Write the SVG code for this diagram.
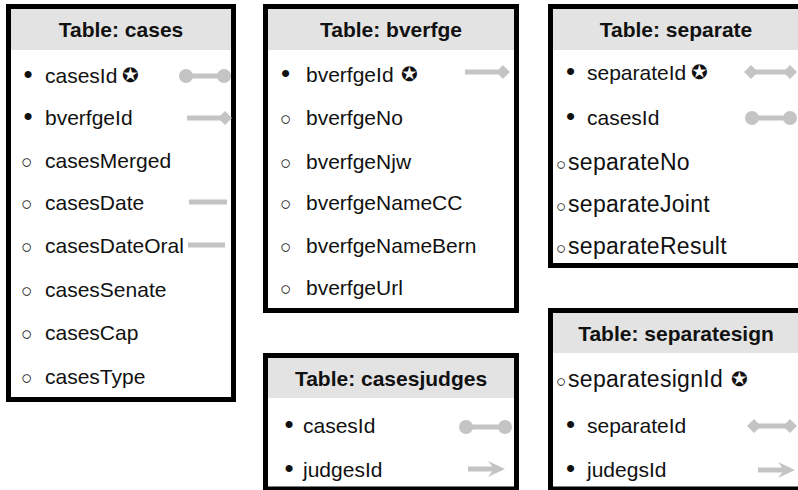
<svg xmlns="http://www.w3.org/2000/svg" width="798" height="490" viewBox="0 0 798 490">
<style>
.box{fill:#fff;stroke:#000;stroke-width:5}
.hd{fill:#e3e3e3}
.t{font-family:"Liberation Sans",Arial,sans-serif;font-size:21px;font-weight:bold;fill:#111;text-anchor:middle}
.r{font-family:"Liberation Sans",Arial,sans-serif;font-size:21px;fill:#111}
.r2{font-family:"Liberation Sans",Arial,sans-serif;font-size:23px;fill:#111;letter-spacing:0.3px}
.b{font-size:26px}
.o{font-size:19px}
.o2{font-size:17px;letter-spacing:0}
.s{font-family:"DejaVu Sans",sans-serif;font-size:20px;fill:#111}
.ln{stroke:#c4c4c4;stroke-width:5;fill:none}
.cap{fill:#c4c4c4}
</style>
<g id="cases">
<rect class="box" x="8.5" y="6.5" width="225" height="393"/>
<rect class="hd" x="11" y="9" width="220" height="41"/>
<text class="t" x="121" y="37">Table: cases</text>
<text class="r" y="83"><tspan class="b" x="23.5">•</tspan><tspan x="45">casesId</tspan></text>
<text class="s" x="122" y="82">✪</text>
<text class="r" y="125"><tspan class="b" x="23.5">•</tspan><tspan x="45">bverfgeId</tspan></text>
<text class="r" y="168"><tspan class="o" x="21">○</tspan><tspan x="45">casesMerged</tspan></text>
<text class="r" y="210"><tspan class="o" x="21">○</tspan><tspan x="45">casesDate</tspan></text>
<text class="r" y="253"><tspan class="o" x="21">○</tspan><tspan x="45">casesDateOral</tspan></text>
<text class="r" y="297"><tspan class="o" x="21">○</tspan><tspan x="45">casesSenate</tspan></text>
<text class="r" y="340"><tspan class="o" x="21">○</tspan><tspan x="45">casesCap</tspan></text>
<text class="r" y="384"><tspan class="o" x="21">○</tspan><tspan x="45">casesType</tspan></text>
</g>
<g id="bverfge">
<rect class="box" x="265.5" y="6.5" width="251" height="304"/>
<rect class="hd" x="268" y="9" width="246" height="41"/>
<text class="t" x="391" y="37">Table: bverfge</text>
<text class="r" y="82"><tspan class="b" x="281">•</tspan><tspan x="306">bverfgeId</tspan></text>
<text class="s" x="401" y="81">✪</text>
<text class="r" y="125"><tspan class="o" x="280">○</tspan><tspan x="306">bverfgeNo</tspan></text>
<text class="r" y="169"><tspan class="o" x="280">○</tspan><tspan x="306">bverfgeNjw</tspan></text>
<text class="r" y="210"><tspan class="o" x="280">○</tspan><tspan x="306">bverfgeNameCC</tspan></text>
<text class="r" y="253"><tspan class="o" x="280">○</tspan><tspan x="306">bverfgeNameBern</tspan></text>
<text class="r" y="295"><tspan class="o" x="280">○</tspan><tspan x="306">bverfgeUrl</tspan></text>
</g>
<g id="separate">
<rect class="box" x="550.5" y="6.5" width="260" height="259"/>
<rect class="hd" x="553" y="9" width="250" height="41"/>
<text class="t" x="676" y="37">Table: separate</text>
<text class="r" y="80"><tspan class="b" x="566">•</tspan><tspan x="587">separateId</tspan></text>
<text class="s" x="691" y="79">✪</text>
<text class="r" y="125"><tspan class="b" x="566">•</tspan><tspan x="587">casesId</tspan></text>
<text class="r2" y="170"><tspan class="o2" x="556">○</tspan><tspan x="568">separateNo</tspan></text>
<text class="r2" y="212"><tspan class="o2" x="556">○</tspan><tspan x="568">separateJoint</tspan></text>
<text class="r2" y="254"><tspan class="o2" x="556">○</tspan><tspan x="568">separateResult</tspan></text>
</g>
<g id="casesjudges">
<rect class="box" x="265.5" y="355.5" width="251" height="133.5"/>
<rect class="hd" x="268" y="358" width="246" height="40"/>
<text class="t" x="391" y="386">Table: casesjudges</text>
<text class="r" y="433"><tspan class="b" x="284.5">•</tspan><tspan x="303">casesId</tspan></text>
<text class="r" y="477"><tspan class="b" x="284.5">•</tspan><tspan x="303">judgesId</tspan></text>
</g>
<g id="separatesign">
<rect class="box" x="550.5" y="310.5" width="260" height="178.5"/>
<rect class="hd" x="553" y="313" width="250" height="40"/>
<text class="t" x="676" y="341">Table: separatesign</text>
<text class="r2" y="387"><tspan class="o2" x="556">○</tspan><tspan x="568">separatesignId</tspan></text>
<text class="s" x="731" y="386">✪</text>
<text class="r" y="433"><tspan class="b" x="566">•</tspan><tspan x="587">separateId</tspan></text>
<text class="r" y="477"><tspan class="b" x="566">•</tspan><tspan x="587">judegsId</tspan></text>
</g>
<g id="connectors">
<line class="ln" x1="186" y1="76" x2="224" y2="76"/>
<circle class="cap" cx="186" cy="76" r="7"/>
<circle class="cap" cx="224" cy="76" r="7"/>
<line class="ln" x1="187" y1="118" x2="222" y2="118"/>
<path class="cap" d="M218 118 L225 111 L232 118 L225 125 Z"/>
<line class="ln" x1="189" y1="202" x2="227" y2="202"/>
<line class="ln" x1="188" y1="245" x2="225" y2="245"/>
<line class="ln" x1="465" y1="72" x2="500" y2="72"/>
<path class="cap" d="M496 72 L503 65 L510 72 L503 79 Z"/>
<line class="ln" x1="750" y1="72" x2="790" y2="72"/>
<path class="cap" d="M744 72 L751 65 L758 72 L751 79 Z"/>
<path class="cap" d="M783 72 L790 65 L797 72 L790 79 Z"/>
<line class="ln" x1="752" y1="118" x2="790" y2="118"/>
<circle class="cap" cx="752" cy="118" r="7"/>
<circle class="cap" cx="790" cy="118" r="7"/>
<line class="ln" x1="466" y1="427" x2="505" y2="427"/>
<circle class="cap" cx="466" cy="427" r="7"/>
<circle class="cap" cx="505" cy="427" r="7"/>
<line class="ln" x1="468" y1="469" x2="495" y2="469"/>
<path class="cap" d="M488 461 L505 469 L488 477 L494 469 Z"/>
<line class="ln" x1="752" y1="426" x2="790" y2="426"/>
<path class="cap" d="M747 426 L754 419 L761 426 L754 433 Z"/>
<path class="cap" d="M783 426 L790 419 L797 426 L790 433 Z"/>
<line class="ln" x1="758" y1="470" x2="785" y2="470"/>
<path class="cap" d="M778 462 L795 470 L778 478 L784 470 Z"/>
</g>
</svg>
